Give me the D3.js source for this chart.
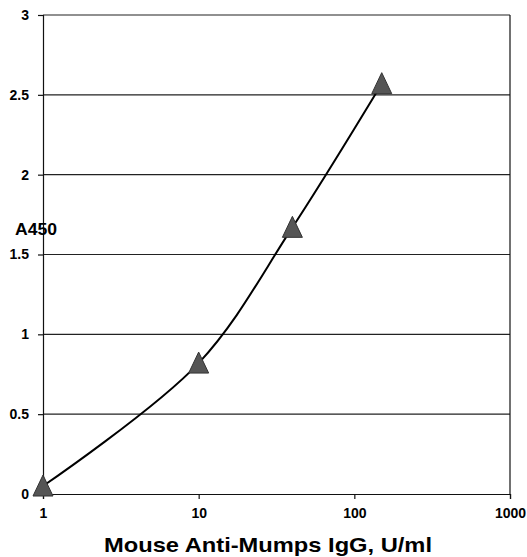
<!DOCTYPE html>
<html>
<head>
<meta charset="utf-8">
<script src="https://cdn.jsdelivr.net/npm/d3@7"></script>
<style>
  body { margin: 0; background: #fff; }
  text { font-family: "Liberation Sans", Arial, sans-serif; font-weight: bold; fill: #000; }
</style>
</head>
<body>
<svg id="chart" width="527" height="557"></svg>
<script>
// values
var concentration = [1, 10, 40, 150];
var absorbance = [0.05, 0.82, 1.67, 2.57];
var y_ticks = [0, 0.5, 1, 1.5, 2, 2.5, 3];
var x_ticks = [1, 10, 100, 1000];
var x_title = "Mouse Anti-Mumps IgG, U/ml";
var y_title = "A450";

var svg = d3.select("#chart");
// plot edges (note: "top" is taken by window.top)
var plot_left = 43, plot_right = 510, plot_top = 15, plot_bottom = 494;

var x_scale = d3.scaleLog().domain([1, 1000]).range([plot_left, plot_right]);
var y_scale = d3.scaleLinear().domain([0, 3]).range([plot_bottom, plot_top]);

// gridlines
svg.selectAll("line.grid")
    .data(y_ticks.filter(function(d){ return d > 0; }))
    .enter()
    .append("line")
    .attr("class", "grid")
    .attr("x1", plot_left).attr("x2", plot_right)
    .attr("y1", function(d){ return y_scale(d); })
    .attr("y2", function(d){ return y_scale(d); })
    .style("stroke", "#222")
    .style("stroke-width", 1.2);

// right frame line
svg.append("line")
    .attr("x1", plot_right).attr("x2", plot_right)
    .attr("y1", plot_top).attr("y2", plot_bottom)
    .style("stroke", "#111").style("stroke-width", 1.2);

var y_axis = d3.axisLeft(y_scale).tickValues(y_ticks).tickSize(5).tickPadding(9)
    .tickFormat(function(d){ return String(d); });
var gy = svg.append("g").attr("transform", "translate(" + plot_left + ",0)").call(y_axis);
gy.selectAll("text").style("font-size", "14px");

var x_axis = d3.axisBottom(x_scale).tickValues(x_ticks).tickSize(5).tickPadding(9)
    .tickFormat(d3.format("d"));
var gx = svg.append("g").attr("transform", "translate(0," + plot_bottom + ")").call(x_axis);
gx.selectAll("text").style("font-size", "14px");

svg.selectAll(".domain, .tick line").style("stroke", "#111").style("stroke-width", 1.2);

// curve
var line = d3.line()
    .x(function(d, i){ return x_scale(concentration[i]); })
    .y(function(d){ return y_scale(d); })
    .curve(d3.curveCatmullRom.alpha(0.5));

svg.append("path")
    .datum(absorbance)
    .attr("d", line)
    .style("fill", "none")
    .style("stroke", "#000")
    .style("stroke-width", 2);

// triangle markers, slightly taller than wide like the original
var tri = "M0,-11L10,10L-10,10Z";
svg.selectAll("path.marker")
    .data(absorbance)
    .enter()
    .append("path")
    .attr("class", "marker")
    .attr("d", tri)
    .attr("transform", function(d, i){ return "translate(" + x_scale(concentration[i]) + "," + y_scale(d) + ")"; })
    .style("fill", "#555")
    .style("stroke", "#333")
    .style("stroke-width", 1);

svg.append("text")
    .attr("x", 15).attr("y", 235)
    .attr("textLength", 42)
    .attr("lengthAdjust", "spacingAndGlyphs")
    .style("font-size", "16px")
    .text(y_title);

svg.append("text")
    .attr("x", 104).attr("y", 552)
    .attr("textLength", 328)
    .attr("lengthAdjust", "spacingAndGlyphs")
    .style("font-size", "21px")
    .text(x_title);
</script>
</body>
</html>
